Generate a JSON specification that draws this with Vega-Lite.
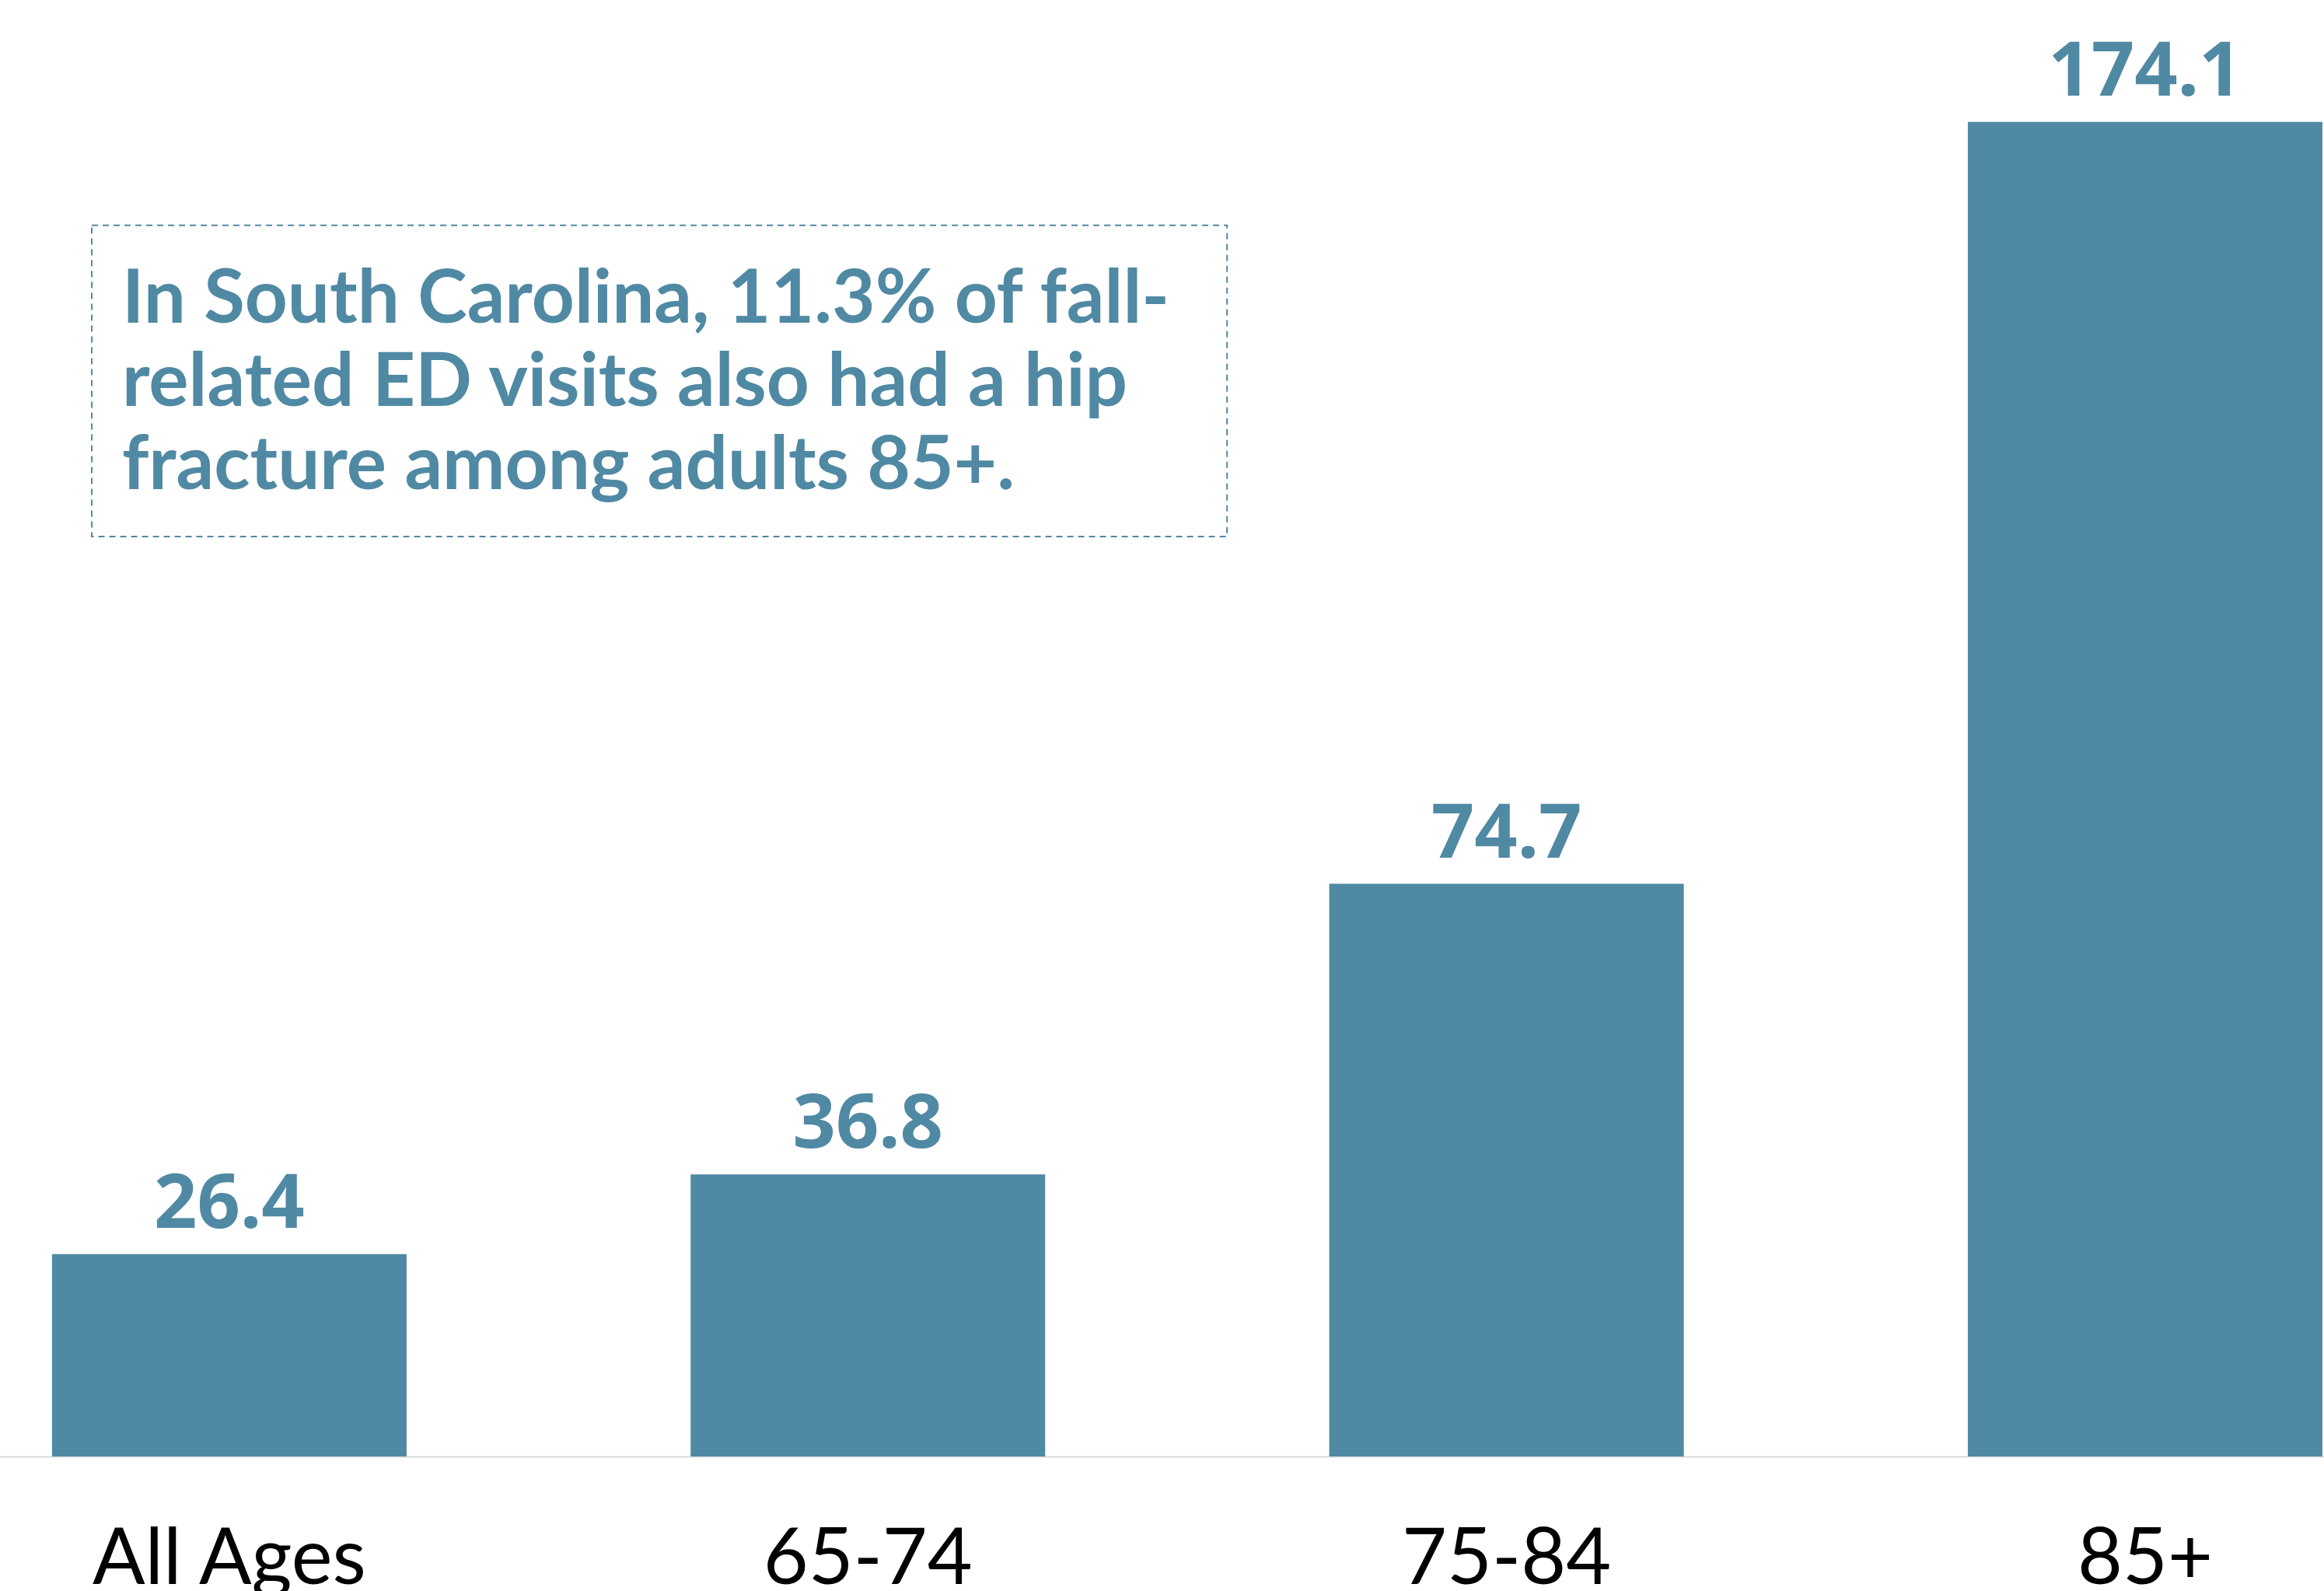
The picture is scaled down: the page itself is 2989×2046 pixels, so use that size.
{
  "$schema": "https://vega.github.io/schema/vega-lite/v6.json",
  "width": 2989,
  "height": 1873,
  "autosize": {"type": "none"},
  "padding": {"left": 0, "top": 0, "right": 0, "bottom": 173},
  "background": "white",
  "config": {"view": {"stroke": null}},
  "layer": [
    {
      "data": {"values": [
        {"age": "All Ages", "rate": 26.4},
        {"age": "65-74", "rate": 36.8},
        {"age": "75-84", "rate": 74.7},
        {"age": "85+", "rate": 174.1}
      ]},
      "encoding": {
        "x": {"field": "age", "type": "nominal", "sort": null,
          "scale": {"paddingInner": 0.4448, "paddingOuter": 0.042, "align": 0.97},
          "axis": {"title": null, "ticks": false, "labelAngle": 0, "domainColor": "#d9d9d9", "domainWidth": 2,
            "labelFont": "Lato", "labelFontSize": 100, "labelColor": "#000000", "labelFontWeight": "normal",
            "labelBaseline": "alphabetic", "labelPadding": 163, "labelLimit": 0}},
        "y": {"field": "rate", "type": "quantitative", "scale": {"domain": [0, 190], "nice": false}, "axis": null}
      },
      "layer": [
        {"mark": {"type": "bar", "color": "#5089A3"}},
        {"mark": {"type": "text", "baseline": "alphabetic", "dy": -34, "font": "Noto Sans", "fontWeight": "bold", "fontSize": 97, "color": "#5089A3"},
         "encoding": {"text": {"field": "rate", "type": "quantitative", "format": ".1f"}}}
      ]
    },
    {
      "data": {"values": [
        {"note": ["In South Carolina, 11.3% of fall-", "related ED visits also had a hip", "fracture among adults 85+."]}
      ]},
      "layer": [
        {"mark": {"type": "rect", "fill": null, "stroke": "#5089A3", "strokeWidth": 2, "strokeDash": [8, 6]},
         "encoding": {
           "x": {"datum": 0.0395, "type": "quantitative", "scale": {"domain": [0, 1], "nice": false, "zero": false}, "axis": null},
           "x2": {"datum": 0.528},
           "y": {"datum": 160.6, "type": "quantitative"},
           "y2": {"datum": 120.0}
         }},
        {"mark": {"type": "text", "align": "left", "baseline": "alphabetic", "font": "Lato", "fontWeight": "bold", "fontSize": 96, "lineHeight": 107, "color": "#5089A3"},
         "encoding": {
           "x": {"datum": 0.0525, "type": "quantitative", "scale": {"domain": [0, 1], "nice": false, "zero": false}, "axis": null},
           "y": {"datum": 147.9, "type": "quantitative"},
           "text": {"field": "note"}
         }}
      ]
    }
  ],
  "resolve": {"scale": {"x": "independent"}}
}
